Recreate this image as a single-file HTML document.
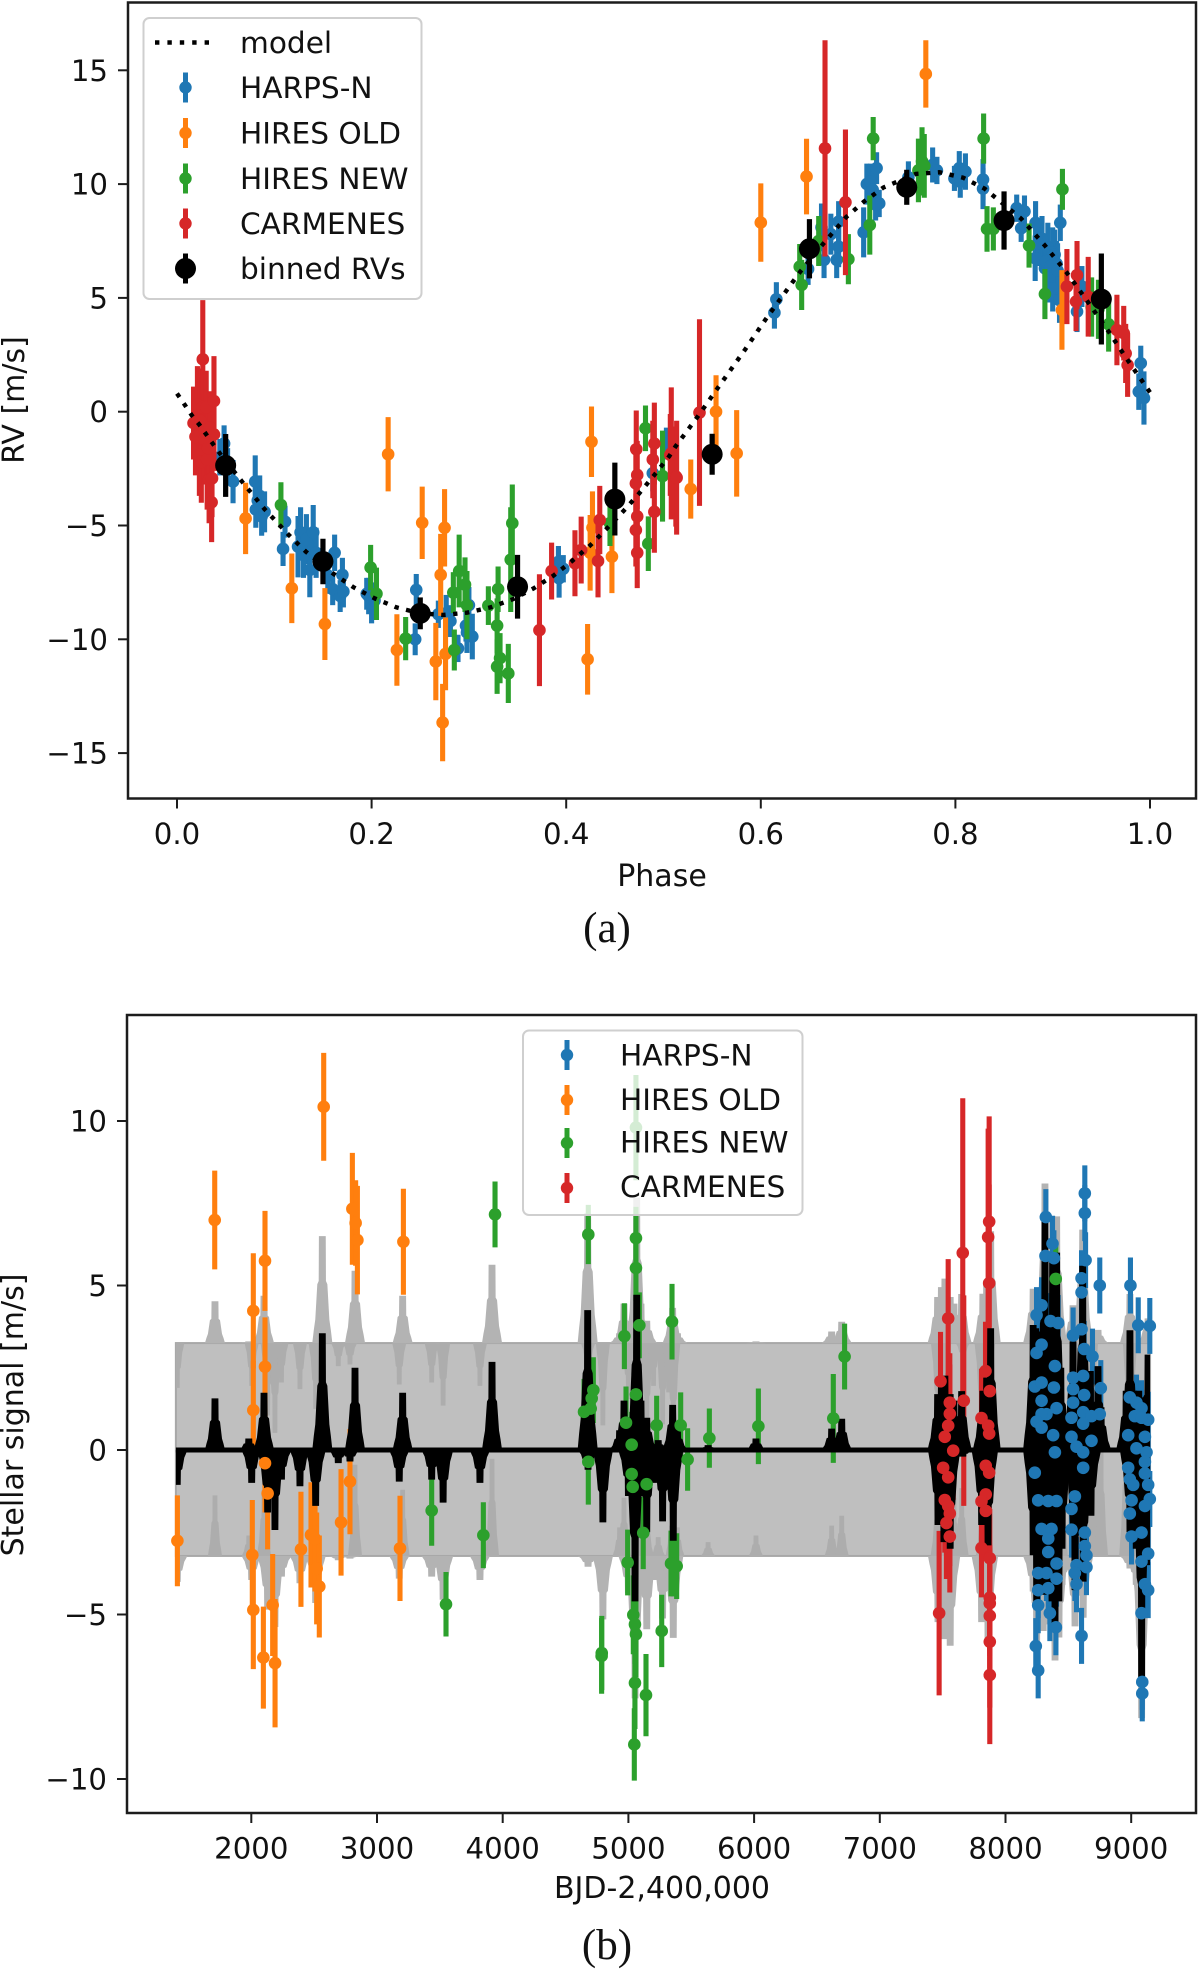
<!DOCTYPE html>
<html>
<head>
<meta charset="utf-8">
<style>
html,body{margin:0;padding:0;background:#fff;}
svg{display:block;}
text{font-family:"DejaVu Sans",sans-serif;font-size:29.6px;fill:#111;}
.tick{font-size:29.2px;}
.title{font-size:30px;}
.cap{font-family:"Liberation Serif",serif;font-size:43px;}
</style>
</head>
<body>
<svg id="fig" width="1200" height="1969" viewBox="0 0 1200 1969" xmlns="http://www.w3.org/2000/svg">
<rect width="1200" height="1969" fill="#fff"/>
<g id="a-data"></g>
<rect x="128" y="2.5" width="1068" height="796" fill="none" stroke="#1c1c1c" stroke-width="2.5"/>
<g id="a-axes"></g>
<g>
<rect x="143.5" y="18" width="278" height="281" rx="6" fill="#fff" fill-opacity="0.8" stroke="#cfcfcf" stroke-width="2"/>
<line x1="155" x2="216" y1="42.5" y2="42.5" stroke="#000" stroke-width="4.4" stroke-dasharray="4.4 8"/>
<text x="240" y="53">model</text>
<line x1="185.5" x2="185.5" y1="72.5" y2="102.5" stroke="#1f77b4" stroke-width="5"/><circle cx="185.5" cy="87.5" r="6.2" fill="#1f77b4"/>
<text x="240" y="98">HARPS-N</text>
<line x1="185.5" x2="185.5" y1="118" y2="148" stroke="#ff7f0e" stroke-width="5"/><circle cx="185.5" cy="133" r="6.2" fill="#ff7f0e"/>
<text x="240" y="143.5">HIRES OLD</text>
<line x1="185.5" x2="185.5" y1="163.5" y2="193.5" stroke="#2ca02c" stroke-width="5"/><circle cx="185.5" cy="178.5" r="6.2" fill="#2ca02c"/>
<text x="240" y="189">HIRES NEW</text>
<line x1="185.5" x2="185.5" y1="208.5" y2="238.5" stroke="#d62728" stroke-width="5"/><circle cx="185.5" cy="223.5" r="6.2" fill="#d62728"/>
<text x="240" y="234">CARMENES</text>
<line x1="185.5" x2="185.5" y1="253.5" y2="283.5" stroke="#000" stroke-width="5"/><circle cx="185.5" cy="268.5" r="10.5" fill="#000"/>
<text x="240" y="279">binned RVs</text>
</g>
<text class="title" x="662" y="886" text-anchor="middle">Phase</text>
<text class="title" transform="translate(24,400) rotate(-90)" text-anchor="middle">RV [m/s]</text>
<text class="cap" x="607" y="942" text-anchor="middle">(a)</text>

<g id="b-data"></g>
<rect x="127" y="1015" width="1069" height="798" fill="none" stroke="#1c1c1c" stroke-width="2.5"/>
<g id="b-axes"></g>
<g>
<rect x="523" y="1030.5" width="279.5" height="184.5" rx="6" fill="#fff" fill-opacity="0.8" stroke="#cfcfcf" stroke-width="2"/>
<line x1="567" x2="567" y1="1040" y2="1070" stroke="#1f77b4" stroke-width="5"/><circle cx="567" cy="1055" r="6.2" fill="#1f77b4"/>
<text x="620" y="1065.5">HARPS-N</text>
<line x1="567" x2="567" y1="1085" y2="1115" stroke="#ff7f0e" stroke-width="5"/><circle cx="567" cy="1100" r="6.2" fill="#ff7f0e"/>
<text x="620" y="1110">HIRES OLD</text>
<line x1="567" x2="567" y1="1128" y2="1158" stroke="#2ca02c" stroke-width="5"/><circle cx="567" cy="1143" r="6.2" fill="#2ca02c"/>
<text x="620" y="1152.5">HIRES NEW</text>
<line x1="567" x2="567" y1="1173" y2="1203" stroke="#d62728" stroke-width="5"/><circle cx="567" cy="1188" r="6.2" fill="#d62728"/>
<text x="620" y="1197">CARMENES</text>
</g>
<text class="title" x="662" y="1898" text-anchor="middle">BJD-2,400,000</text>
<text class="title" transform="translate(23,1415) rotate(-90)" text-anchor="middle">Stellar signal [m/s]</text>
<text class="cap" x="607" y="1959" text-anchor="middle">(b)</text>
</svg>
<script>
// ---------- Panel (a) data ----------
const modelPhase=[0,.008,.015,.0228,.037,.044,.0668,.09,.115,.1325,.161,.1817,.203,.2257,.25,.274,.298,.322,.3457,.3666,.387,.406,.425,.442,.459,.475,.4906,.506,.5123,.5344,.5556,.584,.6045,.626,.6405,.664,.6875,.706,.726,.7595,.7837,.808,.83,.8676,.892,.915,.9365,.9575,.9776,1];
const modelRv=[.8,.3,-.15,-.56,-1.42,-1.83,-3.07,-4.28,-5.42,-6.15,-7.13,-7.72,-8.2,-8.6,-8.86,-8.93,-8.83,-8.6,-8.23,-7.76,-7.2,-6.56,-5.86,-5.12,-4.36,-3.59,-2.78,-1.95,-1.53,-.26,1.03,2.74,4.03,5.3,6.15,7.37,8.54,9.23,9.85,10.45,10.52,10.28,9.8,8.48,7.3,6.08,4.8,3.52,2.23,.85];

const harpsPhase=[.0484,.044,.052,.0576,.0804,.083,.085,.081,.087,.09,.111,.109,.1244,.127,.133,.14,.1365,.13,.143,.162,.16,.155,.17,.1677,.171,.197,.195,.2,.203,.2459,.2448,.2686,.2767,.281,.2888,.297,.3,.3035,.298,.3927,.392,.397,.489,.503,.616,.614,.6486,.665,.6624,.672,.678,.68,.68,.7057,.709,.7127,.715,.719,.7217,.718,.7517,.7766,.781,.799,.804,.8103,.805,.8284,.8284,.863,.871,.8676,.882,.8824,.889,.895,.9,.904,.892,.897,.9078,.907,.93,.925,.9905,.9885,.9938,.885,.893,.898,.902,.905,.9];
const harpsRv=[-1.4,-2.0,-2.4,-3.07,-3.07,-3.9,-3.7,-4.3,-4.6,-4.4,-4.83,-6.03,-5.93,-5.3,-5.6,-5.3,-6.95,-6.3,-6.2,-6.2,-7.8,-7.2,-7.17,-8.1,-7.9,-8.1,-8.0,-8.5,-8.3,-7.83,-10.0,-8.9,-8.85,-9.2,-10.4,-9.4,-8.5,-9.88,-9.7,-7.32,-6.6,-6.9,-2.7,-1.4,4.94,4.35,6.27,6.67,8.1,7.8,6.67,7.25,8.35,7.88,10.0,10.1,9.75,10.7,9.15,9.1,10.3,10.84,10.6,10.25,10.7,10.55,10.1,10.2,9.8,8.94,8.8,8.06,6.74,8.3,7.6,7.2,7.0,6.5,6.3,6.0,8.3,4.9,5.5,4.4,2.13,.88,.6,7.4,6.6,6.4,6.9,6.2,5.4];
const harpsErr=[.8,.8,.8,.95,1.15,.8,.9,.8,.85,.9,.7,.75,1.35,1.1,1.1,1.2,1.2,1,1.1,.8,.7,.8,.75,.7,.7,.8,.7,.8,.8,.7,.7,.6,.8,.7,.6,.7,.8,1,.9,.85,.7,.6,.8,.7,.75,.7,.7,.8,1.05,.9,.8,.9,.9,1.1,.9,.8,.8,.7,.6,.7,.7,.77,.6,.55,.75,.8,.7,.9,.9,.6,.7,.6,1,.95,1,1.1,1.1,1,1.2,1.2,.8,1,.9,.9,.77,.8,1.17,1,1.1,1.1,1.1,1.2,1];

const oldPhase=[.0705,.217,.118,.152,.252,.275,.226,.271,.266,.276,.273,.426,.4246,.427,.447,.422,.528,.554,.5752,.6,.647,.7696,.9095];
const oldRv=[-4.69,-1.87,-7.76,-9.33,-4.88,-5.1,-10.47,-7.17,-10.98,-10.64,-13.66,-1.32,-6.2,-5.1,-6.37,-10.88,-3.4,0,-1.83,8.31,10.33,14.84,4.47];
const oldErr=[1.57,1.63,1.53,1.58,1.59,1.7,1.57,1.8,1.7,1.6,1.7,1.55,1.66,1.6,1.6,1.55,1.3,1.6,1.9,1.72,1.66,1.48,1.75];

const newPhase=[.1068,.199,.205,.235,.285,.29,.284,.296,.298,.32,.33,.329,.329,.332,.3405,.3446,.343,.445,.4844,.4815,.499,.7155,.642,.64,.712,.6595,.69,.7657,.762,.768,.829,.8325,.839,.8757,.892,.91,.94,.947,.9575];
const newRv=[-4.1,-6.85,-8,-9.97,-10.47,-7,-7.95,-7.6,-8.5,-8.52,-7.8,-9.4,-11.2,-10.83,-11.5,-4.9,-6.5,-4.9,-5.8,-.73,-2.83,12,5.57,6.37,8.2,7.5,6.7,11,10.6,10.8,12,8.03,8.03,7.3,5.17,9.77,4.6,4.5,3.84];
const newErr=[1,1,1.15,.95,.9,1.6,.9,1.2,1.5,.85,1,1.2,1.2,1.1,1.3,1.7,2.3,1,1.2,1,2,.95,1.1,1,1.3,1.1,1.1,1.5,1.4,1.4,1.1,1,.95,.97,1.1,.9,1.3,1.3,1.2];

const carmPhase=[.017,.019,.021,.023,.024,.025,.026,.0265,.028,.029,.03,.031,.032,.033,.034,.0356,.036,.038,.038,.3725,.385,.409,.4154,.4327,.4345,.472,.473,.4716,.473,.4716,.473,.489,.4906,.4906,.5127,.507,.508,.5135,.537,.666,.687,.9146,.925,.924,.9365,.966,.973,.975,.977];
const carmRv=[-.5,-1.1,.3,-1.9,-.4,-2.2,.2,2.3,-1.2,-.9,.2,-2.1,-1.6,-3,-.7,-3.98,-2.93,-1,.47,-9.6,-7,-6.66,-6.08,-6.56,-4.76,-1.65,-2.78,-3.15,-4.6,-5.2,-6.2,-2.1,-1.4,-4.4,-2.85,-1.9,-1.83,-2.9,-.04,11.57,9.2,5.5,6,4.84,5.05,3.59,3.45,2.56,2.05];
const carmErr=[1.6,1.7,1.7,1.8,1.9,1.8,1.7,2.6,2,1.9,1.6,2.2,2,1.9,1.6,1.75,1.7,1.6,1.97,2.46,1.25,1.45,1.47,1.6,1.5,1.7,1.5,1.6,1.75,1.6,1.55,1.7,1.8,1.8,2.2,1.8,2.9,2.5,4.1,4.75,3.2,1.65,1.5,1.3,1.75,1.55,1.2,1.3,1.4];

const binPhase=[.05,.15,.25,.35,.45,.55,.65,.75,.85,.95];
const binRv=[-2.36,-6.58,-8.86,-7.69,-3.84,-1.87,7.16,9.86,8.4,4.95];
const binErr=[1.38,1,.7,1.4,1.6,.9,1.3,.77,1.28,2];

const phaseTicks=[0,.2,.4,.6,.8,1];
const phaseTickLabels=['0.0','0.2','0.4','0.6','0.8','1.0'];
const rvTicks=[15,10,5,0,-5,-10,-15];
const rvTickLabels=['15','10','5','0','\u22125','\u221210','\u221215'];

// ---------- Panel (b) data ----------
const bandRange=[1400,9150];
const bandLimits=[3.25,-3.22];
const peakUpTime=[1711,1980,2101,2565,2825,3204,3915,4676,4965,4930,5066,5100,5146,5237,5352,5390,5634,6015,6617,6697,7460,7490,7518,7560,7590,7651,7820,7850,7882,8220,8240,8260,8290,8314,8340,8375,8407,8440,8537,8560,8590,8614,8650,8675,8736,8760,8960,8990,9020,9060,9100,9134];
const peakUpValue=[1.57,.35,1.74,3.55,2.5,1.74,2.68,4.25,1.5,.6,4.72,1.5,.98,.3,1.37,.6,.15,.35,.65,.95,1.7,2,2.26,1.7,1.5,1.79,1.8,2.2,3.7,3.8,3.7,3.6,3.6,7,3.8,6,6,2.5,3.3,1.8,1.6,5.6,1.6,2.4,2.55,1.3,1.8,3.64,1.8,1.8,1.6,2.9];
const peakDownTime=[1411,2003,2130,2188,2240,2387,2512,2692,2785,3177,3435,3526,3819,4679,4797,5053,5000,5100,5146,5200,5272,5320,5357,7463,7510,7560,7660,7810,7835,7861,8220,8248,8275,8300,8340,8370,8394,8425,8450,8553,8590,8618,8680,8990,9040,9083,9110,9134];
const peakDownValue=[-1.06,-1,-1.9,-2.43,-.9,-1.1,-1.7,-.4,-.35,-.96,-.9,-1.6,-1,-.6,-2.2,-4.6,-1.4,-1.4,-2.5,-1,-2.17,-1.2,-2.76,-2.28,-2.8,-3,-.2,-2.28,-2,-2.9,-3.2,-4.7,-4.4,-4.4,-4.2,-4.6,-5.3,-4.6,-3,-4.26,-2.6,-4,-2,-2.5,-3,-7.05,-3.5,-3.5];

const bHarpsTime=[8321,8631,8631,8374,8318,8385,8637,8605,8750,8994,8605,8287,8247,8358,8419,9056,9148,8538,8605,8287,8626,8692,8247,8393,8538,8618,8233,8287,8385,8758,8538,8626,8287,8538,8989,9042,9082,8406,8326,8287,8618,8525,8750,8684,8247,8287,8618,9135,9029,9082,8976,9109,8379,8525,8565,8684,8393,8618,9042,9122,8976,9109,8618,8233,8989,9109,9016,9135,8260,8340,8406,8552,9003,9148,9109,8525,8989,8287,8366,8525,8631,9082,8340,8631,9003,8340,8644,9135,9082,8406,8260,8326,8565,8644,8406,8552,8260,8340,8565,9109,9135,8260,9082,8353,8401,8605,8241,8260,9088,9088];
const bHarpsValue=[7.08,7.8,7.2,6.27,5.9,5.83,5.77,5.22,5,5,4.79,4.4,4.1,3.92,3.86,3.79,3.77,3.48,3.67,3.2,3.07,2.84,2.95,2.55,2.2,2.25,1.93,2.05,1.9,1.88,1.85,1.67,1.5,1.44,1.6,1.44,1.27,1.27,1.09,1.09,1.15,.98,1.09,1.03,.86,.68,.8,.92,1.03,.98,.45,.4,.45,.4,.1,.28,-.07,-.07,.05,-.07,-.54,-.36,-.54,-.69,-.89,-.71,-1.06,-1.06,-1.53,-1.55,-1.55,-1.41,-1.53,-1.49,-1.7,-1.79,-1.93,-2.4,-2.4,-2.42,-2.51,-2.51,-2.69,-2.92,-2.63,-3.1,-3.2,-3.15,-3.39,-3.45,-3.74,-3.74,-3.5,-3.56,-3.91,-3.74,-4.26,-4.2,-4.08,-4.08,-4.26,-4.72,-4.96,-4.96,-5.39,-5.65,-5.96,-6.7,-7.05,-7.4];
const bHarpsErrValue=0.85;

const bOldTime=[1709,2576,2016,2109,2016,2109,2804,2830,2844,3210,1412,2008,2016,2096,2109,2130,2170,2189,2395,2475,2507,2520,2541,2714,2785,3183];
const bOldValue=[6.99,10.43,4.23,5.75,1.21,2.53,7.33,6.9,6.38,6.33,-2.76,-3.19,-4.86,-6.31,-.4,-1.32,-4.71,-6.48,-3.02,-2.58,-2.7,-3.6,-4.15,-2.2,-.96,-2.99];
const bOldErr=[1.5,1.64,1.75,1.52,1.5,1.5,1.7,1.3,1.65,1.61,1.38,1.67,1.8,1.55,1.5,1.7,1.55,1.95,1.75,1.6,1.6,1.7,1.55,1.62,1.6,1.6];

const bNewTime=[3939,4681,4647,4700,4708,4721,3435,3846,3549,4681,4788,5060,5060,5060,4968,5087,5347,5060,4981,5225,5416,5026,5644,6034,6630,6720,5471,5026,5034,5145,5118,4994,5357,5384,5339,4787,5039,5052,5060,5052,5047,5140,5265,8400];
const bNewValue=[7.16,6.55,1.16,1.26,1.57,1.82,-1.84,-2.59,-4.69,-.36,-6.17,9.8,6.44,5.53,3.46,3.79,3.9,1.69,.83,.75,.75,.16,.36,.72,.96,2.84,-.29,-.73,-1.12,-1.04,-2.52,-3.42,-3.45,-3.53,-3.45,-6.26,-5.01,-5.3,-5.6,-7.08,-8.95,-7.45,-5.5,5.2];
const bNewErr=[1,.9,1,1,1,1,1.07,1,.98,1.3,1.13,1.6,.95,1,1,1,1.15,1,1.1,.9,1,1,.9,1.15,1.35,1,.95,1,1,1.3,1.1,1,1,1,1,1.15,1.2,1.2,1.3,1.4,1.1,1.25,1.1,1.1];

const bCarmTime=[7660,7668,7870,7862,7870,7483,7544,7841,7875,7557,7557,7544,7517,7584,7809,7862,7870,7504,7544,7843,7870,7517,7544,7557,7530,7557,7843,7809,7843,7809,7875,7875,7875,7875,7875,7875,7472];
const bCarmValue=[5.99,1.5,6.94,6.47,5.07,2.09,4,2.4,1.79,1.44,1.1,.74,.4,-.02,.97,.74,.5,-.54,-.83,-.48,-.69,-1.52,-1.7,-1.93,-2.22,-2.63,-1.35,-1.56,-1.85,-2.98,-3.29,-4.49,-4.66,-5.04,-5.83,-6.84,-4.96];
const bCarmErr=[4.7,3.2,3.2,3.3,3,1.5,1.8,1.5,1.5,1.5,1.5,1.6,1.6,1.5,1.5,1.5,1.5,1.5,1.6,1.5,1.5,1.6,1.6,1.6,1.7,1.7,1.5,1.5,1.5,1.5,1.5,1.6,1.6,1.6,2,2.1,2.5];

const timeTicks=[2000,3000,4000,5000,6000,7000,8000,9000];
const timeTickLabels=['2000','3000','4000','5000','6000','7000','8000','9000'];
const signalTicks=[10,5,0,-5,-10];
const signalTickLabels=['10','5','0','\u22125','\u221210'];

// ---------- scales ----------
function xA(v){return 177+v*973;}
function yA(v){return 411.7-v*22.76;}
function xB(v){return 251.3+(v-2000)*0.1257;}
function yB(v){return 1450-v*32.9;}

const NS='http://www.w3.org/2000/svg';
const aData=document.getElementById('a-data');
const bData=document.getElementById('b-data');
const aAxes=document.getElementById('a-axes');
const bAxes=document.getElementById('b-axes');

function makeGroup(parent,label){
  const g=document.createElementNS(NS,'g');
  
  
  parent.appendChild(g);
  return g;
}
function drawSeries(barParent,dotParent,xs,ys,errs,sx,sy,color,r,lw,label){
  const barGroup=makeGroup(barParent,label+'-error-bars');
  const dotGroup=makeGroup(dotParent,label+'-points');
  xs.forEach(function(x,i){
    const e=Array.isArray(errs)?errs[i]:errs;
    const bar=document.createElementNS(NS,'line');
    
    
    bar.setAttribute('x1',sx(x));
    bar.setAttribute('x2',sx(x));
    bar.setAttribute('y1',sy(ys[i]+e));
    bar.setAttribute('y2',sy(ys[i]-e));
    bar.setAttribute('stroke',color);
    bar.setAttribute('stroke-width',lw);
    barGroup.appendChild(bar);
    const dot=document.createElementNS(NS,'circle');
    
    
    dot.setAttribute('cx',sx(x));
    dot.setAttribute('cy',sy(ys[i]));
    dot.setAttribute('r',r);
    dot.setAttribute('fill',color);
    dotGroup.appendChild(dot);
  });
}
function drawTicks(parent,vals,labels,horizontal,scale,axisPos,label){
  vals.forEach(function(v,i){
    const p=scale(v);
    const t=document.createElementNS(NS,'line');
    
    
    t.setAttribute('stroke','#1c1c1c');
    t.setAttribute('stroke-width','2');
    const s=document.createElementNS(NS,'text');
    
    
    s.setAttribute('class','tick');
    if(horizontal){
      t.setAttribute('x1',p);t.setAttribute('x2',p);
      t.setAttribute('y1',axisPos);t.setAttribute('y2',axisPos+10);
      s.setAttribute('x',p);s.setAttribute('y',axisPos+45.5);
      s.setAttribute('text-anchor','middle');
    }else{
      t.setAttribute('x1',axisPos-10);t.setAttribute('x2',axisPos);
      t.setAttribute('y1',p);t.setAttribute('y2',p);
      s.setAttribute('x',axisPos-20);s.setAttribute('y',p+10.5);
      s.setAttribute('text-anchor','end');
    }
    s.textContent=labels[i];
    parent.appendChild(t);
    parent.appendChild(s);
  });
}

// ---------- draw (a) ----------
const modelLine=document.createElementNS(NS,'polyline');


modelLine.setAttribute('points',modelPhase.map(function(p,i){return xA(p)+','+yA(modelRv[i]);}).join(' '));
modelLine.setAttribute('fill','none');
modelLine.setAttribute('stroke','#000');
modelLine.setAttribute('stroke-width','4.4');
modelLine.setAttribute('stroke-dasharray','4.4 7.5');

const R=6.3, LW=5.1;
drawSeries(aData,aData,harpsPhase,harpsRv,harpsErr,xA,yA,'#1f77b4',R,LW,'harps-n');
drawSeries(aData,aData,oldPhase,oldRv,oldErr,xA,yA,'#ff7f0e',R,LW,'hires-old');
drawSeries(aData,aData,newPhase,newRv,newErr,xA,yA,'#2ca02c',R,LW,'hires-new');
drawSeries(aData,aData,carmPhase,carmRv,carmErr,xA,yA,'#d62728',R,LW,'carmenes');
aData.appendChild(modelLine);
drawSeries(aData,aData,binPhase,binRv,binErr,xA,yA,'#000',10.5,5.2,'binned-rv');
drawTicks(aAxes,phaseTicks,phaseTickLabels,true,xA,798.5,'phase');
drawTicks(aAxes,rvTicks,rvTickLabels,false,yA,128,'rv');

// ---------- draw (b) ----------
// Peak outline, as fractions of half-width and of height (a tall spike on a stepped foot).
const peakOffsets=[-1,-.85,-.7,-.5,-.36,-.34,.34,.36,.5,.7,.85,1];
const peakHeights=[0,.12,.22,.55,.58,1,1,.58,.55,.22,.12,0];
const peakHalfWidth=80;
const sigmaOutsideDenseEra=2.95;
const sigmaInDenseEra=1.1;
const denseEraStart=8100;
function sigmaAt(t){return t>=denseEraStart?sigmaInDenseEra:sigmaOutsideDenseEra;}
function clampTime(t){return Math.max(bandRange[0],Math.min(bandRange[1],t));}
function peakPath(t,base,tip,halfWidth){
  return peakOffsets.map(function(o,i){
    return xB(clampTime(t+o*halfWidth))+','+yB(base+(tip-base)*peakHeights[i]);
  }).join(' ');
}
function drawPeak(parent,t,base,tip,halfWidth,color,label){
  const p=document.createElementNS(NS,'polygon');
  
  
  p.setAttribute('points',peakPath(t,base,tip,halfWidth));
  p.setAttribute('fill',color);
  parent.appendChild(p);
}
const band=document.createElementNS(NS,'rect');


band.setAttribute('x',xB(bandRange[0]));
band.setAttribute('width',xB(bandRange[1])-xB(bandRange[0]));
band.setAttribute('y',yB(bandLimits[0]));
band.setAttribute('height',yB(bandLimits[1])-yB(bandLimits[0]));
band.setAttribute('fill','#bfbfbf');
band.setAttribute('stroke','#a8a8a8');
band.setAttribute('stroke-width','2');
bData.appendChild(band);
peakUpTime.forEach(function(t,i){
  const h=peakUpValue[i];
  const s=sigmaAt(t);
  if(h+s>bandLimits[0]){
    drawPeak(bData,t,bandLimits[0],h+s,peakHalfWidth,'#b3b3b3','gp-upper-peak');
  }
  if(h<3){
    drawPeak(bData,t,bandLimits[1],h-s,peakHalfWidth*.7,'#adadad','gp-lower-notch');
  }
});
peakDownTime.forEach(function(t,i){
  const h=peakDownValue[i];
  const s=sigmaAt(t);
  if(h-s<bandLimits[1]){
    drawPeak(bData,t,bandLimits[1],h-s,peakHalfWidth,'#b3b3b3','gp-lower-peak');
  }
  if(h>-3){
    drawPeak(bData,t,bandLimits[0],h+s,peakHalfWidth*.7,'#adadad','gp-upper-notch');
  }
});
const bBars=makeGroup(bData,'stellar-error-bars');
peakUpTime.forEach(function(t,i){
  drawPeak(bData,t,0,peakUpValue[i],peakHalfWidth,'#000','gp-mean-peak');
});
peakDownTime.forEach(function(t,i){
  drawPeak(bData,t,0,peakDownValue[i],peakHalfWidth,'#000','gp-mean-dip');
});
const meanLine=document.createElementNS(NS,'line');


meanLine.setAttribute('x1',xB(bandRange[0]));
meanLine.setAttribute('x2',xB(bandRange[1]));
meanLine.setAttribute('y1',yB(0));
meanLine.setAttribute('y2',yB(0));
meanLine.setAttribute('stroke','#000');
meanLine.setAttribute('stroke-width','5');
bData.appendChild(meanLine);
const bDots=makeGroup(bData,'stellar-points');

drawSeries(bBars,bDots,bHarpsTime,bHarpsValue,bHarpsErrValue,xB,yB,'#1f77b4',R,LW,'b-harps-n');
drawSeries(bBars,bDots,bOldTime,bOldValue,bOldErr,xB,yB,'#ff7f0e',R,LW,'b-hires-old');
drawSeries(bBars,bDots,bNewTime,bNewValue,bNewErr,xB,yB,'#2ca02c',R,LW,'b-hires-new');
drawSeries(bBars,bDots,bCarmTime,bCarmValue,bCarmErr,xB,yB,'#d62728',R,LW,'b-carmenes');
drawTicks(bAxes,timeTicks,timeTickLabels,true,xB,1813,'time');
drawTicks(bAxes,signalTicks,signalTickLabels,false,yB,127,'signal');
</script>
</body>
</html>
